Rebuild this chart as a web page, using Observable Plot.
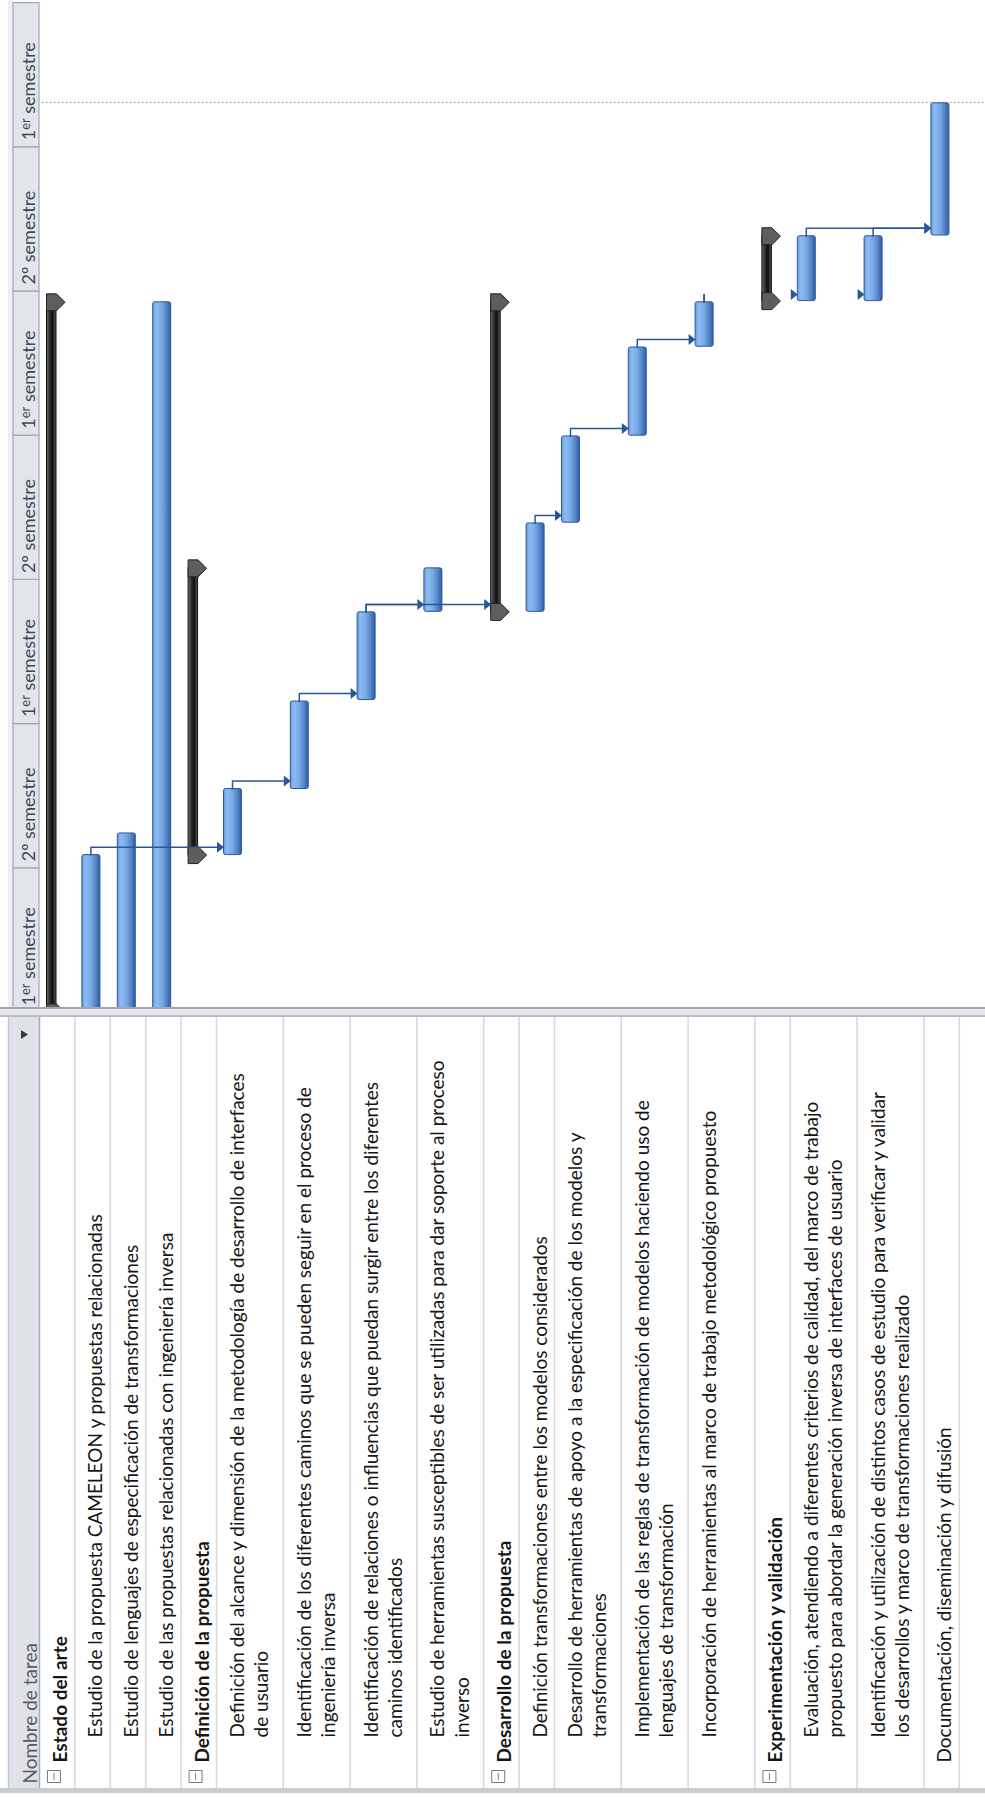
<!DOCTYPE html>
<html><head><meta charset="utf-8">
<script src="https://cdn.jsdelivr.net/npm/d3@7"></script>
<script src="https://cdn.jsdelivr.net/npm/@observablehq/plot@0.6"></script>
<style>
html,body{margin:0;padding:0;background:#fff;}
#wrap{width:985px;height:1798px;overflow:hidden;font-family:Lato,sans-serif;}
.splitter{height:6px;background:#e6e8ec;border-top:2px solid #a3a7ad;border-bottom:2px solid #b9bdc3;}
.bottom{height:5px;background:#c9cdd3;}
svg{display:block;}
</style></head><body><div id="wrap"></div>
<script>
// ---------------- data ----------------
const taskNames = [
  "Estado del arte",
  "Estudio de la propuesta CAMELEON y propuestas relacionadas",
  "Estudio de lenguajes de especificación de transformaciones",
  "Estudio de las propuestas relacionadas con ingeniería inversa",
  "Definición de la propuesta",
  "Definición del alcance y dimensión de la metodología de desarrollo de interfaces\nde usuario",
  "Identificación de los diferentes caminos que se pueden seguir en el proceso de\ningeniería inversa",
  "Identificación de relaciones o influencias que puedan surgir entre los diferentes\ncaminos identificados",
  "Estudio de herramientas susceptibles de ser utilizadas para dar soporte al proceso\ninverso",
  "Desarrollo de la propuesta",
  "Definición transformaciones entre los modelos considerados",
  "Desarrollo de herramientas de apoyo a la especificación de los modelos y\ntransformaciones",
  "Implementación de las reglas de transformación de modelos haciendo uso de\nlenguajes de transformación",
  "Incorporación de herramientas al marco de trabajo metodológico propuesto",
  "Experimentación y validación",
  "Evaluación, atendiendo a diferentes criterios de calidad, del marco de trabajo\npropuesto para abordar la generación inversa de interfaces de usuario",
  "Identificación y utilización de distintos casos de estudio para verificar y validar\nlos desarrollos y marco de transformaciones realizado",
  "Documentación, diseminación y difusión"
];
const taskLevel   = [0,1,1,1,0,1,1,1,1,0,1,1,1,1,0,1,1,0];
const taskSummary = [1,0,0,0,1,0,0,0,0,1,0,0,0,0,1,0,0,0];
const taskLines   = [1,1,1,1,1,2,2,2,2,1,1,2,2,2,1,2,2,1];
// months from the start of the first "1er semestre"
const taskStart = [0, 0, 0, 0, 6.55, 6.55, 9.3, 13.0, 16.67, 16.67, 16.67, 20.38, 24.0, 27.7, 29.6, 29.6, 29.6, 32.33];
const taskEnd   = [29.55, 6.55, 7.45, 29.55, 18.48, 9.3, 12.94, 16.65, 18.48, 29.55, 20.35, 23.97, 27.67, 29.55, 32.3, 32.3, 32.3, 37.83];
// predecessor -> successor
const linkFrom = [1, 5, 6, 7, 7, 10, 11, 12, 13, 13, 15, 16];
const linkTo   = [5, 6, 7, 8, 9, 11, 12, 13, 15, 16, 17, 17];
const linkDrawn = [1, 1, 1, 1, 1, 1, 1, 1, 0, 0, 1, 1];
const semesterLabels = ["1er semestre","2º semestre","1er semestre","2º semestre","1er semestre","2º semestre","1er semestre"];
const semesterMonths = 6;
const statusMonth = 37.87;
const headerLabel = "Nombre de tarea";

// ---------------- layout ----------------
const ROW_PX = 35.4, DOUBLE_PX = 66.8, X0 = 39, FS = 19;
const rowUnits = taskLines.map(n => n === 2 ? DOUBLE_PX / ROW_PX : 1);
const row0 = []; let acc = 0; for (const w of rowUnits) { row0.push(acc); acc += w; }
const boundaries = [...row0.slice(1), acc, acc + 1];
const u = p => p / ROW_PX;
const ux = p => (p - X0) / ROW_PX;
const LINK_DT = 0.33;

const tasks = taskNames.map((name, i) => ({i, name, level: taskLevel[i], summary: !!taskSummary[i], row0: row0[i], start: taskStart[i], end: taskEnd[i]}));
const summaries = tasks.filter(d => d.summary);
const leaves = tasks.filter(d => !d.summary);
const caps = summaries.flatMap(d => [{row0: d.row0, t: d.start}, {row0: d.row0, t: d.end}]);
const semesters = semesterLabels.map((label, i) => ({label, start: i * semesterMonths, end: (i + 1) * semesterMonths}));

const linkPts = [];
const linkArrows = [];
linkFrom.forEach((a, k) => {
  const b = linkTo[k];
  const t = taskEnd[a] + LINK_DT;
  const xs = row0[a] + u(16);
  linkPts.push({id: k, x: xs, y: taskEnd[a]}, {id: k, x: xs, y: t});
  if (linkDrawn[k]) linkPts.push({id: k, x: row0[b] + u(1), y: t});
  linkArrows.push({x: row0[b] + u(7.5), y: t});
});

const arrowSym = {draw(c){ c.moveTo(0,0); c.lineTo(-7,-5.5); c.lineTo(-7,5.5); c.closePath(); }};
const capSym = {draw(c){ c.moveTo(0,-8.5); c.lineTo(10,-8.5); c.lineTo(18.5,0); c.lineTo(10,8.5); c.lineTo(0,8.5); c.closePath(); }};
const boxSym = {draw(c){ c.rect(-6.5,-6,13,12); c.moveTo(0,-3.5); c.lineTo(0,3.5); }};
const triSym = {draw(c){ c.moveTo(4,0); c.lineTo(-3,-4.5); c.lineTo(-3,4.5); c.closePath(); }};

const xScale = {type: "linear", domain: [0, 1], range: [X0, X0 + ROW_PX], axis: null};

// ---------------- gantt ----------------
const gantt = Plot.plot({
  width: 985, height: 1007, margin: 0,
  x: xScale, y: {type: "linear", domain: [0, 42], range: [1012, 2.6], axis: null},
  style: {fontFamily: "Lato", overflow: "hidden",
    background: "linear-gradient(to right,#fff 0,#fff 8px,#eceef1 8px,#eceef1 13px,#fff 13px)"},
  marks: [
    Plot.rect(semesters, {x1: ux(13), x2: ux(39), y1: "start", y2: "end", fill: "#e2e5ea", stroke: "#a3a7ae", strokeWidth: 1.2}),
    Plot.text(semesters, {x: ux(21.5), y: "start", text: "label", rotate: -90, textAnchor: "start", lineAnchor: "top", dy: -7, fontSize: 18, fill: "#3f4759"}),
    Plot.ruleY([statusMonth], {x1: u(3), x2: acc + 1, stroke: "#8a8a8a", strokeWidth: 1, strokeDasharray: "1.5 2.5"}),
    Plot.rect(summaries, {x1: d => d.row0 + u(7.5), x2: d => d.row0 + u(17), y1: "start", y2: "end", fill: "url(#sumGrad)", stroke: "#111", strokeWidth: 1, clip: true}),
    Plot.rect(leaves, {x1: d => d.row0 + u(7.5), x2: d => d.row0 + u(25.5), y1: "start", y2: "end", fill: "url(#barGrad)", stroke: "#2d5a98", strokeWidth: 1, rx: 2, clip: true}),
    Plot.dot(caps, {x: d => d.row0 + u(7), y: "t", symbol: capSym, fill: "#5e5e5e", stroke: "#222", strokeWidth: 1}),
    Plot.line(linkPts, {x: "x", y: "y", z: "id", stroke: "#2b5797", strokeWidth: 1.5, strokeLinejoin: "round"}),
    Plot.dot(linkArrows, {x: "x", y: "y", symbol: arrowSym, fill: "#2b5797", stroke: "none"})
  ]
});

const defs = d3.select(gantt).insert("defs", ":first-child");
const bg = defs.append("linearGradient").attr("id", "barGrad").attr("x1", 0).attr("x2", 1).attr("y1", 0).attr("y2", 0);
[[0, "#6a9ade"], [0.2, "#8dbbf1"], [0.5, "#78a9e6"], [0.8, "#4f7fc2"], [1, "#2f5c9e"]].forEach(([o, c]) => bg.append("stop").attr("offset", o).attr("stop-color", c));
const sg = defs.append("linearGradient").attr("id", "sumGrad").attr("x1", 0).attr("x2", 1).attr("y1", 0).attr("y2", 0);
[[0, "#707070"], [0.35, "#2b2b2b"], [0.65, "#0e0e0e"], [1, "#5c5c5c"]].forEach(([o, c]) => sg.append("stop").attr("offset", o).attr("stop-color", c));

// superscript "er"
d3.select(gantt).selectAll("text").each(function() {
  if (this.textContent === "1er semestre") {
    const t = d3.select(this); t.text("1");
    t.append("tspan").attr("dy", "-0.4em").attr("font-size", "0.72em").text("er");
    t.append("tspan").attr("dy", "0.29em").text(" semestre");
  }
});

// ---------------- table ----------------
const level0 = tasks.filter(d => d.level === 0 && !d.summary);
const level1 = tasks.filter(d => d.level === 1);
const textBase = {rotate: -90, textAnchor: "start", lineAnchor: "top", lineHeight: 24.5 / FS, fontSize: FS, fill: "#161616", frameAnchor: "bottom"};
const table = Plot.plot({
  width: 985, height: 771, margin: 0,
  x: xScale,
  style: {fontFamily: "Lato", overflow: "hidden",
    background: "linear-gradient(to right,#fff 0,#fff 8px,#dfe3e8 8px,#dfe3e8 39px,#fff 39px)"},
  marks: [
    Plot.ruleX([ux(8)], {stroke: "#c4c8ce", strokeWidth: 1.5}),
    Plot.ruleX(boundaries, {stroke: "#d8d8d8", strokeWidth: 1.5}),
    Plot.ruleX([0], {stroke: "#a8acb2", strokeWidth: 1.5}),
    Plot.text([headerLabel], {...textBase, x: ux(19.5), dy: -5, fill: "#5b5b5b"}),
    Plot.dot([headerLabel], {x: ux(23.5), frameAnchor: "top", dy: 17, symbol: triSym, fill: "#3a3a3a", stroke: "none"}),
    Plot.dot(summaries, {x: d => d.row0 + u(14.5), frameAnchor: "bottom", dy: -12, symbol: boxSym, fill: "#fff", stroke: "#7c7c7c", strokeWidth: 1}),
    Plot.text(summaries, {...textBase, x: d => d.row0 + u(23.5 - 0.71 * FS), text: "name", dy: -26, fontWeight: "bold"}),
    Plot.text(level0, {...textBase, x: d => d.row0 + u(23.5 - 0.71 * FS), text: "name", dy: -26}),
    Plot.text(level1, {...textBase, x: d => d.row0 + u(23.5 - 0.71 * FS), text: "name", dy: -51})
  ]
});

const wrap = document.getElementById("wrap");
wrap.appendChild(gantt);
const sp = document.createElement("div"); sp.className = "splitter"; wrap.appendChild(sp);
wrap.appendChild(table);
const bt = document.createElement("div"); bt.className = "bottom"; wrap.appendChild(bt);
</script>
</body></html>
